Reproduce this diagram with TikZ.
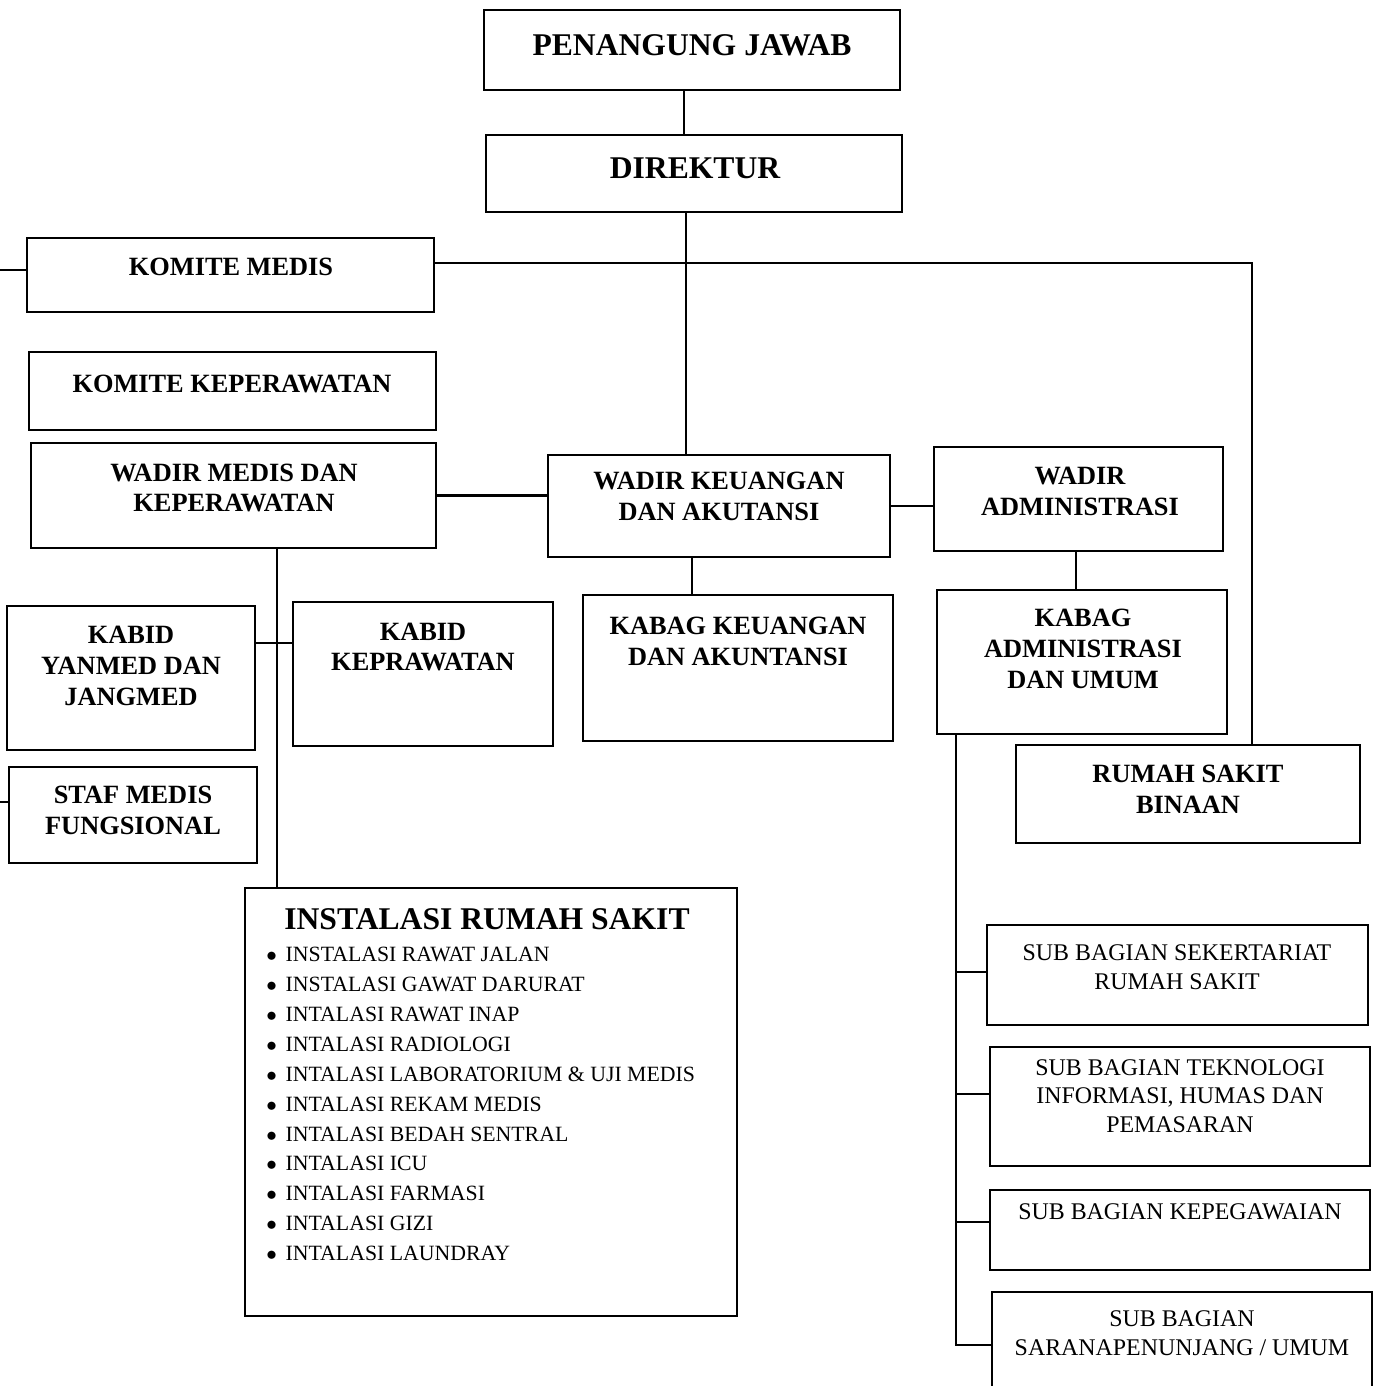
\documentclass[tikz,border=0pt]{standalone}
\usepackage{fontspec}
\setmainfont{Liberation Serif}
\usetikzlibrary{positioning,fit}

\newcommand{\itm}{$\bullet$\hspace{5pt}}

\begin{document}
\begin{tikzpicture}[x=0.02cm, y=-0.02cm,
    box/.style={draw, line width=1.2pt, inner sep=0pt},
    conn/.style={line width=1.2pt},
    bigtxt/.style={inner sep=0pt, font=\fontsize{18}{21}\selectfont\bfseries},
    midtxt/.style={inner sep=0pt, align=center, font=\fontsize{15}{17.6}\selectfont\bfseries},
    subtxt/.style={inner sep=0pt, align=center, font=\fontsize{13.6}{16.2}\selectfont},
    listtxt/.style={inner sep=0pt, align=left, font=\fontsize{12.4}{17}\selectfont}]
  \useasboundingbox (0,0) rectangle (1380,1386);
  \clip (0,0) rectangle (1380,1386);

  % boxes
  \node[box, fit={(484,10) (900,90)}] (pj) {};
  \node[box, fit={(486,135) (902,212)}] (dir) {};
  \node[box, fit={(27,238) (434,312)}] (km) {};
  \node[box, fit={(29,352) (436,430)}] (kk) {};
  \node[box, fit={(31,443) (436,548)}] (wm) {};
  \node[box, fit={(548,455) (890,557)}] (wk) {};
  \node[box, fit={(934,447) (1223,551)}] (wa) {};
  \node[box, fit={(7,606) (255,750)}] (ky) {};
  \node[box, fit={(293,602) (553,746)}] (kp) {};
  \node[box, fit={(583,595) (893,741)}] (kku) {};
  \node[box, fit={(937,590) (1227,734)}] (ka) {};
  \node[box, fit={(9,767) (257,863)}] (sm) {};
  \node[box, fit={(1016,745) (1360,843)}] (rsb) {};
  \node[box, fit={(245,888) (737,1316)}] (irs) {};
  \node[box, fit={(987,925) (1368,1025)}] (sb1) {};
  \node[box, fit={(990,1047) (1370,1166)}] (sb2) {};
  \node[box, fit={(990,1190) (1370,1270)}] (sb3) {};
  \node[box, fit={(992,1292) (1372,1400)}] (sb4) {};

  % texts
  \node[bigtxt] (pjT) at (692,45) {PENANGUNG JAWAB};
  \node[bigtxt] (dirT) at (695,168) {DIREKTUR};
  \node[midtxt] (kmT) at (231,267) {KOMITE MEDIS};
  \node[midtxt] (kkT) at (232,384) {KOMITE KEPERAWATAN};
  \node[midtxt] (wmT) at (234,488) {WADIR MEDIS DAN\\KEPERAWATAN};
  \node[midtxt] (wkT) at (719,496) {WADIR KEUANGAN\\DAN AKUTANSI};
  \node[midtxt] (waT) at (1080,491) {WADIR\\ADMINISTRASI};
  \node[midtxt] (kyT) at (131,666) {KABID\\YANMED DAN\\JANGMED};
  \node[midtxt] (kpT) at (423,647) {KABID\\KEPRAWATAN};
  \node[midtxt] (kkuT) at (738,641) {KABAG KEUANGAN\\DAN AKUNTANSI};
  \node[midtxt] (kaT) at (1083,649) {KABAG\\ADMINISTRASI\\DAN UMUM};
  \node[midtxt] (smT) at (133,810) {STAF MEDIS\\FUNGSIONAL};
  \node[midtxt] (rsbT) at (1188,789) {RUMAH SAKIT\\BINAAN};
  \node[bigtxt] (irsT) at (487,919) {INSTALASI RUMAH SAKIT};
  \node[listtxt, anchor=north west] (irsL) at (266,947) {%
    \itm INSTALASI RAWAT JALAN\\
    \itm INSTALASI GAWAT DARURAT\\
    \itm INTALASI RAWAT INAP\\
    \itm INTALASI RADIOLOGI\\
    \itm INTALASI LABORATORIUM \& UJI MEDIS\\
    \itm INTALASI REKAM MEDIS\\
    \itm INTALASI BEDAH SENTRAL\\
    \itm INTALASI ICU\\
    \itm INTALASI FARMASI\\
    \itm INTALASI GIZI\\
    \itm INTALASI LAUNDRAY};
  \node[subtxt] (sb1T) at (1177,967) {SUB BAGIAN SEKERTARIAT\\RUMAH SAKIT};
  \node[subtxt] (sb2T) at (1180,1096) {SUB BAGIAN TEKNOLOGI\\INFORMASI, HUMAS DAN\\PEMASARAN};
  \node[subtxt] (sb3T) at (1180,1212) {SUB BAGIAN KEPEGAWAIAN};
  \node[subtxt] (sb4T) at (1182,1333) {SUB BAGIAN\\SARANAPENUNJANG / UMUM};

  % lines
  \coordinate (t1) at (684,0);
  \coordinate (t2) at (686,0);
  \coordinate (t3) at (692,0);
  \coordinate (t4) at (1076,0);
  \coordinate (t5) at (277,0);
  \coordinate (t6) at (956,0);
  \coordinate (bend) at (1252,263);
  \coordinate (kmL) at (0,270);
  \coordinate (smL) at (0,802);
  \coordinate (yc) at (0,643);
  \coordinate (yb1) at (0,972);
  \coordinate (yb2) at (0,1094);
  \coordinate (yb3) at (0,1222);
  \coordinate (yb4) at (0,1345);

  \draw[conn] (pj.south -| t1) -- (dir.north -| t1);
  \draw[conn] (dir.south -| t2) -- (wk.north -| t2);
  \draw[conn] (km.east |- bend) -- (bend) -- (bend |- rsb.north);
  \draw[conn] (kmL) -- (kmL -| km.west);
  \draw[conn] (smL) -- (smL -| sm.west);
  \draw[conn] (wm.east) -- (wm.east -| wk.west);
  \draw[conn] (wk.east) -- (wk.east -| wa.west);
  \draw[conn] (wk.south -| t3) -- (kku.north -| t3);
  \draw[conn] (wa.south -| t4) -- (ka.north -| t4);
  \draw[conn] (wm.south -| t5) -- (irs.north -| t5);
  \draw[conn] (ky.east |- yc) -- (kp.west |- yc);
  \draw[conn] (ka.south -| t6) -- (t6 |- yb4) -- (sb4.west |- yb4);
  \draw[conn] (t6 |- yb1) -- (sb1.west |- yb1);
  \draw[conn] (t6 |- yb2) -- (sb2.west |- yb2);
  \draw[conn] (t6 |- yb3) -- (sb3.west |- yb3);
\end{tikzpicture}
\end{document}
